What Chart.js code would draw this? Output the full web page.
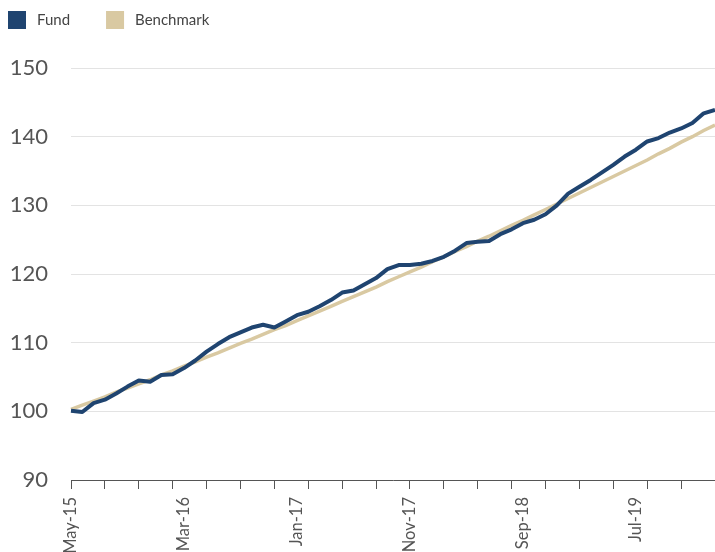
<!DOCTYPE html>
<html>
<head>
<meta charset="utf-8">
<script src="https://cdn.jsdelivr.net/npm/chart.js@4.4.1/dist/chart.umd.min.js"></script>
<style>
  html, body { margin: 0; padding: 0; background: #fff; overflow: hidden; }
  #wrap { width: 715px; height: 552px; position: relative; }
</style>
</head>
<body>
<div id="wrap"><canvas id="perfChart"></canvas></div>
<script>
const months = [
    'May-15', 'Jun-15', 'Jul-15', 'Aug-15', 'Sep-15', 'Oct-15', 'Nov-15', 'Dec-15',
    'Jan-16', 'Feb-16', 'Mar-16', 'Apr-16', 'May-16', 'Jun-16', 'Jul-16', 'Aug-16', 'Sep-16', 'Oct-16', 'Nov-16', 'Dec-16',
    'Jan-17', 'Feb-17', 'Mar-17', 'Apr-17', 'May-17', 'Jun-17', 'Jul-17', 'Aug-17', 'Sep-17', 'Oct-17', 'Nov-17', 'Dec-17',
    'Jan-18', 'Feb-18', 'Mar-18', 'Apr-18', 'May-18', 'Jun-18', 'Jul-18', 'Aug-18', 'Sep-18', 'Oct-18', 'Nov-18', 'Dec-18',
    'Jan-19', 'Feb-19', 'Mar-19', 'Apr-19', 'May-19', 'Jun-19', 'Jul-19', 'Aug-19', 'Sep-19', 'Oct-19', 'Nov-19', 'Dec-19',
    'Jan-20', 'Feb-20'
];
const fund = [
    100.1, 99.9, 101.2, 101.7, 102.6, 103.6, 104.5, 104.3, 105.3, 105.4,
    106.3, 107.4, 108.7, 109.8, 110.8, 111.5, 112.2, 112.6, 112.2, 113.1,
    114.0, 114.5, 115.3, 116.2, 117.3, 117.6, 118.5, 119.4, 120.7, 121.3,
    121.3, 121.5, 121.9, 122.5, 123.4, 124.5, 124.7, 124.8, 125.8, 126.5,
    127.4, 127.9, 128.7, 130.0, 131.7, 132.7, 133.7, 134.8, 135.9, 137.1,
    138.1, 139.3, 139.8, 140.6, 141.2, 142.0, 143.4, 143.9
];
const benchmark = [
    100.3, 100.9, 101.5, 102.1, 102.8, 103.4, 104.0, 104.6, 105.3, 105.9,
    106.6, 107.2, 107.9, 108.5, 109.2, 109.9, 110.5, 111.2, 111.9, 112.5,
    113.2, 113.9, 114.6, 115.3, 116.0, 116.7, 117.4, 118.1, 118.9, 119.6,
    120.3, 121.0, 121.8, 122.5, 123.3, 124.0, 124.8, 125.5, 126.3, 127.1,
    127.8, 128.6, 129.4, 130.2, 131.0, 131.8, 132.6, 133.4, 134.2, 135.0,
    135.8, 136.6, 137.5, 138.3, 139.2, 140.0, 140.9, 141.7
];
const yTicks = [90, 100, 110, 120, 130, 140, 150];

// simple legend drawn on the canvas: box 18px, label 11px after, 36px gap between items
const topLegend = {
    id: 'topLegend',
    afterDraw(chart) {
        const c = chart.ctx;
        let x = 8;
        c.save();
        c.font = '15px Lato';
        c.textBaseline = 'middle';
        chart.data.datasets.forEach(function(ds) {
            c.fillStyle = ds.borderColor;
            c.fillRect(x, 11, 18, 18);
            c.fillStyle = '#444';
            c.fillText(ds.label, x + 29, 20.5);
            x += 29 + c.measureText(ds.label).width + 36;
        });
        c.restore();
    }
};

const ctx = document.getElementById('perfChart').getContext('2d');
new Chart(ctx, {
    type: 'line',
    data: {
        labels: months,
        datasets: [{
            label: 'Fund',
            data: fund,
            borderColor: '#1f4470',
            backgroundColor: '#1f4470',
            borderWidth: 4,
            pointRadius: 0,
            tension: 0,
            borderJoinStyle: 'round'
        }, {
            label: 'Benchmark',
            data: benchmark,
            borderColor: '#d9c9a2',
            backgroundColor: '#d9c9a2',
            borderWidth: 3.5,
            pointRadius: 0,
            tension: 0
        }]
    },
    options: {
        responsive: true,
        maintainAspectRatio: false,
        animation: false,
        layout: { padding: { left: 0, right: 0, top: 68, bottom: 0 } },
        plugins: {
            legend: { display: false },
            tooltip: { enabled: false }
        },
        scales: {
            x: {
                offset: false,
                grid: {
                    drawOnChartArea: false,
                    drawTicks: true,
                    tickLength: 9,
                    color: function(c) { return c.index % 3 === 0 ? '#555' : 'transparent'; }
                },
                border: { display: true, color: '#555', width: 1 },
                ticks: {
                    autoSkip: false,
                    minRotation: 90,
                    maxRotation: 90,
                    padding: 8,
                    color: '#555',
                    font: { family: 'Lato', size: 16.5 },
                    callback: function(v, i) { return i % 10 === 0 ? months[i] : ''; }
                },
                afterFit: function(scale) {
                    scale.height = 72;
                    scale.paddingLeft = 0;
                    scale.paddingRight = 0;
                }
            },
            y: {
                min: 90,
                max: 150,
                afterBuildTicks: function(scale) {
                    scale.ticks = yTicks.map(function(v) { return { value: v }; });
                },
                grid: { color: '#e3e3e3', drawTicks: false },
                border: { display: false },
                ticks: {
                    padding: 23,
                    color: '#555',
                    font: { family: 'Lato', size: 22 }
                },
                afterFit: function(scale) {
                    scale.width = 71;
                }
            }
        }
    },
    plugins: [topLegend]
});
</script>
</body>
</html>
